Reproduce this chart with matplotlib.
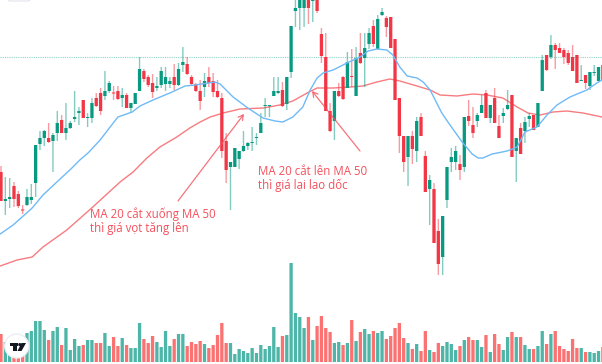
import matplotlib
matplotlib.use("Agg")
import matplotlib.pyplot as plt
from matplotlib.patches import Circle, Polygon, Rectangle, FancyBboxPatch
import numpy as np

WIDTH, HEIGHT = 602, 364
candle_dir = ("RGGRRRGGGG" "GRGGRGGGGR" "GGRRGGRRGR" "GGGRRRGGGG" "RGGRRRRGRR"
              "RRRGGGGGGG" "GGGGGRGGGG" "GRGRRRRGRR" "GRGRGGRGGR" "RRRRGRGRRG"
              "RRGGGGRGRR" "GGRGRRGGRG" "RGGRGGRGRR" "RRRRGRGGGR")
volume_dir = ("RGGRRRGGGG" "GRGGRGGGGR" "GGRRGGRRGR" "GGGRRRGGGG" "RGGRRRRGRR"
              "RRRGGGGGGG" "GGGGGRGGGG" "GRGRRRRGGR" "GRGRGGRGGR" "RRRRGRGRRG"
              "RRGGGGRGRR" "GGRGRRGGRG" "RGGRGGRGRR" "RRRRGRGGGR")
body_top = [172,199,197,186,194,209.5,197,197,145,138,
            131,138,135,123,120,128,123,117,111,100,
            117,103,98,93,91,83,92.5,91,95,95,
            103,93,69,71,77,83,86,71,77,81,
            77,69,62,64,77,84,91,81,77,81,
            91,98,141,162,148,151,146,143,142,137,
            123,105,105,91,91,90,77,26,8,-8,
            -5,-12,-3,-5,34,57,111,91,91,77,
            62,76,58,53,48,33,26,19,12,18,
            17,39,98,136,136,136,121,117,156,180,
            189,231,216,167,157,151,164,117,116,125,
            115,105,93,105,98,126,113,105,95,138,
            128,122,116,115,103,60,55,45,45,48,
            50,53,57,55,80,75,72,72,67,65]
body_bot = [201,201,199,199,206,210.5,205,200,183,144,
            138,142,141,133,133,133,128,119,113,118,
            118,118,106,111,96,91,93.5,99,98,108,
            108,104,91,79,85,92,88,85,84,84,
            85,85,65,74,84,91,101,87,83,92,
            97,151,170,167,167,159,151,146,143,138,
            133,106,106,96,93,106,104,72,11,8,
            8,8,1,11,56,111,131,121,96,99,
            88,77,96,63,58,44,44,49,15,27,
            48,100,136,162,157,149,151,136,192,189,
            243,264,257,200,162,162,170,167,121,133,
            121,113,118,118,123,138,116,109,157,151,
            154,131,119,130,127,91,70,57,50,53,
            57,63,71,83,81,83,86,73,81,81]
wick_top = [166,177,178,182,191,205,189,184,145,131,
            130,123,133,111,115,103,121,91,107,100,
            113,98,93,88,71,81,86,86,88,93,
            103,93,57,69,75,74,77,67,67,77,
            64,63,47,57,75,83,80,73,67,73,
            80,93,133,162,148,151,131,142,127,133,
            113,98,105,77,77,82,77,26,-5,-8,
            -5,-12,-5,-5,28,33,103,91,83,76,
            52,49,47,33,33,28,20,15,8,16,
            17,39,98,136,136,131,117,113,151,175,
            183,219,216,167,148,146,155,117,100,107,
            113,95,90,105,88,115,108,90,95,138,
            123,117,113,115,103,55,55,35,43,43,
            48,50,45,55,65,75,72,65,67,65]
wick_bot = [201,215,208,207,208,214,206,204,197,150,
            146,143,172,141,133,140,129,122,125,118,
            127,123,107,115,100,93,100,100,107,108,
            112,104,91,82,87,98,91,88,91,88,
            90,86,72,75,86,92,110,97,87,97,
            98,158,183,210,167,169,152,150,151,145,
            133,117,117,96,94,107,110,78,27,30,
            27,24,22,13,63,111,132,140,97,100,
            88,87,96,64,87,49,47,49,16,37,
            48,100,153,172,186,164,162,136,192,225,
            243,275,275,208,172,170,180,172,126,138,
            127,113,118,123,123,138,123,110,157,182,
            154,143,127,130,127,91,71,59,69,53,
            64,65,71,83,81,89,90,76,81,81]
volumes = [28,20,20,20,15,16,29,31,41,41,
           32,22,31,35,17,34,12,23,16,17,
           22,22,19,19,29,16,25,16,24,17,
           14,14,39,23,19,26,20,15,31,16,
           23,28,28,16,20,18,21,18,14,17,
           27,39,19,19,8,13,11,9,14,9,
           17,13,16,35,15,26,27,99,49,45,
           34,45,22,36,46,34,30,19,20,17,
           19,42,21,30,33,28,31,29,31,23,
           26,34,39,24,19,13,18,11,31,12,
           10,19,16,20,18,12,16,22,25,22,
           22,15,27,10,28,18,12,25,30,25,
           25,17,13,13,16,31,18,28,31,16,
           13,11,23,14,14,10,10,9,11,15]
ma20_bar = [-0.2,2.8,7.2,9.7,12.9,15.9,18.2,20.1,22.9,25.2,27,30.3,32.1,35.1,39,42.5,44.8,49.4,50.6,
            53.6,57,60.5,63.3,65.1,67.4,69.7,71.4,73,74.4,76.7,79.9,82.9,84.8,86.8,89.1,90.5,92.1,93.8,
            96.1,97.5,99.1,101.8,103.7,106.5,108.8,110.2,111.3,113.4,116.9,119.2,121,123.8,126.1,128.4,
            131.4,135.3,137.6,138.8]
ma20_val = [234,225,208,195,182,170,160,153,140,127,117,112,106,100,93,86,85,82,84,
            97,108,118,121,122,117,107,90,78,73,70,63,57,51,49,50,55,67,76,
            78,82,90,113,125,142,154,158,158,154,151,147,132,127,115,105,
            97,90,83,80]
ma50_bar = [-0.2,3.7,7.2,9.7,15.2,21.2,27.5,30.5,33.7,36.7,40.6,43.6,46,48.3,51.3,55.2,60.5,64.4,67.4,
            70.7,73,76.7,80.6,83.6,86.8,89.8,92.1,96.1,99.1,101.4,105.3,109,112.2,115.9,119.2,121.7,
            124.5,127.5,130.7,134.4,138.8]
ma50_val = [266,260,257,247,230,207,182,172,158,147,137,128,122,117,113,109,108,105,101,
            93,88,88,87,86,82,79,81,86,90,95,96,94,95,98,107,113,
            115,112,111,113,117]
reference_level = 57
note_down = "MA 20 cắt xuống MA 50\nthì giá vọt tăng lên"
note_up = "MA 20 cắt lên MA 50\nthì giá lại lao dốc"

GREEN, RED = "#089981", "#f23645"
VOL_G, VOL_R = "#4db6a8", "#fb7272"
NOTE = "#f4505c"

fig = plt.figure(figsize=(WIDTH / 100, HEIGHT / 100), dpi=100, facecolor="white")
bar_step, bar_first = 4.33, 1.0
xlim = (-bar_first / bar_step, (WIDTH - bar_first) / bar_step)

vol_ax = fig.add_axes([0, 0, 1, 1])
vol_ax.set_xlim(xlim)
vol_ax.set_ylim(-2, HEIGHT - 2)
vol_ax.axis("off")
idx = np.arange(len(volumes))
vol_bars = vol_ax.bar(idx, volumes, width=0.76,
                      color=[VOL_G if d == "G" else VOL_R for d in volume_dir], linewidth=0)
for patch in vol_bars:
    patch.set_snap(False)

ax = fig.add_axes([0, 0, 1, 1])
ax.patch.set_alpha(0)
ax.set_xlim(xlim)
ax.set_ylim(HEIGHT, 0)
ax.axis("off")
ax.axhline(reference_level, color="#8fd3c8", lw=0.8, ls=(0, (1, 1)), zorder=1)
ax.plot(ma50_bar, ma50_val, color="#f77c80", lw=1.0, zorder=2)
for i, d in enumerate(candle_dir):
    c = GREEN if d == "G" else RED
    wick = ax.vlines(i, wick_top[i], wick_bot[i], color=c, lw=1.0, alpha=0.5, zorder=3)
    wick.set_snap(False)
    bodies = ax.bar(i, body_bot[i] - body_top[i], bottom=body_top[i], width=0.76,
                    color=c, linewidth=0, zorder=4)
    bodies[0].set_snap(False)
ax.plot(ma20_bar, ma20_val, color="#6fbaf7", lw=1.0, zorder=5)

ov = fig.add_axes([0, 0, 1, 1])
ov.patch.set_alpha(0)
ov.set_xlim(0, WIDTH)
ov.set_ylim(HEIGHT, 0)
ov.axis("off")
ov.annotate("", xy=(244, 114), xytext=(178, 201),
            arrowprops=dict(arrowstyle="->,head_length=0.35,head_width=0.2", color=NOTE, lw=0.9,
                            alpha=0.8, shrinkA=0, shrinkB=0))
ov.annotate("", xy=(312, 91), xytext=(360, 151),
            arrowprops=dict(arrowstyle="->,head_length=0.35,head_width=0.2", color=NOTE, lw=0.9,
                            alpha=0.8, shrinkA=0, shrinkB=0))
font = dict(family="Open Sans", fontsize=8.3, color=NOTE, linespacing=1.08, va="top", ha="left")
ov.text(89.5, 207, note_down, **font)
ov.text(258.5, 165, note_up, **font)

ov.add_patch(FancyBboxPatch((8, -8), 22, 9, boxstyle="round,pad=0,rounding_size=2",
                            fc="white", ec="#e0e3eb", lw=0.8))
ov.add_patch(Circle((16.7, 346), 12, fc="white", ec="#eceef2", lw=1, zorder=6))
ov.add_patch(Rectangle((9.5, 343), 8, 3, fc="#131722", ec="none", zorder=7))
ov.add_patch(Rectangle((13, 343), 4, 8, fc="#131722", ec="none", zorder=7))
ov.add_patch(Polygon([(21.5, 343), (26, 343), (21.5, 351), (17.5, 351)],
                     fc="#131722", ec="none", zorder=7))
ov.add_patch(Circle((19.8, 344.6), 1.6, fc="#131722", ec="none", zorder=7))

fig.savefig("out.png", dpi=100)
